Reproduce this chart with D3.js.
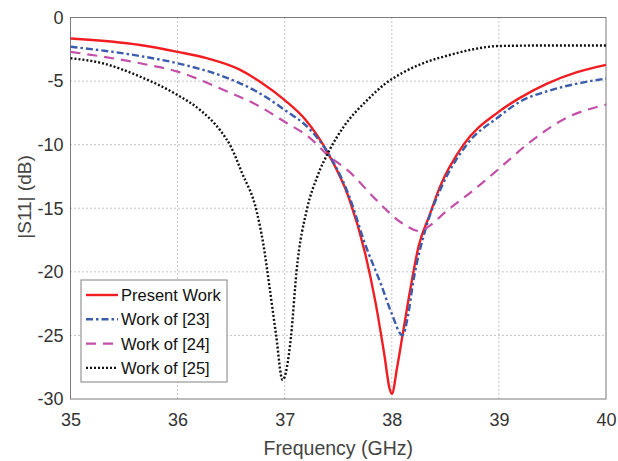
<!DOCTYPE html>
<html>
<head>
<meta charset="utf-8">
<script src="https://cdn.jsdelivr.net/npm/d3@7"></script>
<style>
  html, body { margin: 0; padding: 0; background: #fff; }
  svg { display: block; font-family: "Liberation Sans", Arial, sans-serif; }
</style>
</head>
<body>
<svg id="chart" width="618" height="461"></svg>
<script>
// Frequency ticks and |S11| ticks
const xTicks = [35, 36, 37, 38, 39, 40];
const yTicks = [0, -5, -10, -15, -20, -25, -30];

// Present Work
const presentFreq = [35, 35.65, 36, 36.27, 36.58, 36.77, 37.0, 37.2, 37.4, 37.6, 37.75, 37.85, 37.93, 37.98, 38.0, 38.05, 38.1, 38.17, 38.25, 38.35, 38.45, 38.67, 39.0, 39.2, 39.45, 39.73, 40];
const presentS11  = [-1.65, -2.16, -2.7, -3.2, -4.1, -5.05, -6.5, -8.1, -10.6, -14.2, -18.5, -22.5, -26.5, -29.2, -29.6, -27.5, -25.0, -21.5, -18.0, -15.6, -13.3, -10.0, -7.4, -6.3, -5.2, -4.3, -3.73];

// Work of [23]
const work23Freq = [35, 35.65, 36, 36.43, 36.74, 37.0, 37.24, 37.4, 37.6, 37.75, 37.9, 38.0, 38.1, 38.15, 38.2, 38.32, 38.45, 38.7, 39.0, 39.2, 39.45, 39.73, 40];
const work23S11  = [-2.3, -3.03, -3.6, -4.65, -5.83, -7.27, -8.84, -10.6, -14.0, -17.8, -21.0, -23.3, -25.0, -23.5, -20.8, -16.5, -13.6, -10.0, -7.8, -6.6, -5.8, -5.2, -4.8];

// Work of [24]
const work24Freq = [35, 35.65, 36, 36.43, 36.74, 37.0, 37.24, 37.4, 37.6, 37.85, 38.1, 38.26, 38.35, 38.5, 38.76, 39.0, 39.29, 39.63, 40];
const work24S11  = [-2.7, -3.6, -4.26, -5.7, -6.88, -8.2, -9.5, -10.8, -12.1, -14.3, -16.2, -16.8, -16.4, -15.3, -13.6, -11.9, -9.8, -7.9, -6.85];

// Work of [25]
const work25Freq = [35, 35.3, 35.65, 36, 36.21, 36.4, 36.5, 36.6, 36.74, 36.8, 36.86, 36.92, 36.98, 37.06, 37.11, 37.21, 37.3, 37.42, 37.55, 37.77, 37.94, 38.1, 38.26, 38.54, 38.76, 39.0, 39.5, 40];
const work25S11  = [-3.2, -3.6, -4.65, -6.1, -7.27, -8.9, -10.2, -12.2, -15.3, -17.8, -21.3, -25.0, -28.5, -25.0, -20.0, -15.0, -12.6, -10.4, -8.6, -6.5, -5.2, -4.35, -3.7, -2.95, -2.5, -2.24, -2.2, -2.2];

const seriesNames = ["Present Work", "Work of [23]", "Work of [24]", "Work of [25]"];

const series = [
  { name: seriesNames[0], f: presentFreq, v: presentS11, color: "#f01e23", width: 2.4, dash: null },
  { name: seriesNames[1], f: work23Freq,  v: work23S11,  color: "#3b5cab", width: 2.4, dash: "7,3,2.5,3" },
  { name: seriesNames[2], f: work24Freq,  v: work24S11,  color: "#c24fa8", width: 2.2, dash: "10,7" },
  { name: seriesNames[3], f: work25Freq,  v: work25S11,  color: "#111111", width: 2.4, dash: "2,2" }
];

const svg = d3.select("#chart");
const m = { left: 70.5, right: 606, top: 17.5, bottom: 399 };

const x = d3.scaleLinear().domain([35, 40]).range([m.left, m.right]);
const y = d3.scaleLinear().domain([-30, 0]).range([m.bottom, m.top]);

// plain hyphen-minus tick text
const tickText = d => String(d);

// grid
const grid = svg.append("g");
grid.selectAll(".gx").data(xTicks.slice(1, -1)).join("line")
  .attr("x1", d => x(d)).attr("x2", d => x(d))
  .attr("y1", m.top).attr("y2", m.bottom)
  .attr("stroke", "#8a8a8a").attr("stroke-width", 1).attr("stroke-dasharray", "1,3");
grid.selectAll(".gy").data(yTicks.slice(1, -1)).join("line")
  .attr("x1", m.left).attr("x2", m.right)
  .attr("y1", d => y(d)).attr("y2", d => y(d))
  .attr("stroke", "#8a8a8a").attr("stroke-width", 1).attr("stroke-dasharray", "1,3");

// frame
svg.append("rect")
  .attr("x", m.left).attr("y", m.top)
  .attr("width", m.right - m.left).attr("height", m.bottom - m.top)
  .attr("fill", "none").attr("stroke", "#7a7a7a").attr("stroke-width", 1);

// axes (labels only; the frame carries the lines)
const xAxis = svg.append("g").attr("transform", `translate(0,${m.bottom})`)
  .call(d3.axisBottom(x).tickValues(xTicks).tickSize(0).tickPadding(14).tickFormat(tickText));
const yAxis = svg.append("g").attr("transform", `translate(${m.left},0)`)
  .call(d3.axisLeft(y).tickValues(yTicks).tickSize(0).tickPadding(7).tickFormat(tickText));
[xAxis, yAxis].forEach(a => {
  a.select(".domain").remove();
  a.selectAll("text").attr("font-size", 18).attr("fill", "#333")
    .attr("font-family", "\"Liberation Sans\", Arial, sans-serif");
});

// curves
const line = d3.line().x(d => x(d[0])).y(d => y(d[1])).curve(d3.curveMonotoneX);
const plot = svg.append("g");
series.forEach(s => {
  const pts = s.f.map((f, i) => [f, s.v[i]]);
  plot.append("path").datum(pts)
    .attr("d", line)
    .attr("fill", "none")
    .attr("stroke", s.color)
    .attr("stroke-width", s.width)
    .attr("stroke-dasharray", s.dash)
    .attr("stroke-linejoin", "round");
});

// axis titles
svg.append("text")
  .attr("x", (m.left + m.right) / 2).attr("y", 455)
  .attr("text-anchor", "middle").attr("font-size", 19.5).attr("fill", "#444")
  .text("Frequency (GHz)");
svg.append("text")
  .attr("transform", "translate(31,197) rotate(-90)")
  .attr("text-anchor", "middle").attr("font-size", 19).attr("fill", "#444")
  .text("|S11| (dB)");

// legend
const lg = svg.append("g");
lg.append("rect").attr("x", 81).attr("y", 280).attr("width", 146).attr("height", 102)
  .attr("fill", "#fff").attr("stroke", "#808080").attr("stroke-width", 1);
series.forEach((s, i) => {
  const yy = 295 + i * 24.3;
  lg.append("line").attr("x1", 86).attr("x2", 118).attr("y1", yy).attr("y2", yy)
    .attr("stroke", s.color).attr("stroke-width", s.width).attr("stroke-dasharray", s.dash);
  lg.append("text").attr("x", 121).attr("y", yy + 6)
    .attr("font-size", 16.5).attr("fill", "#111")
    .text(s.name);
});
</script>
</body>
</html>
